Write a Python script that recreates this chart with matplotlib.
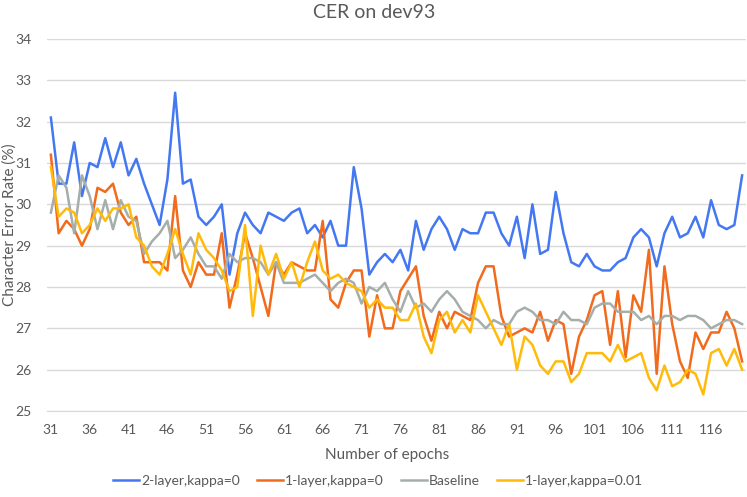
import matplotlib
matplotlib.use("Agg")
import matplotlib.pyplot as plt

plt.rcParams['font.family'] = ['Lato', 'DejaVu Sans']

epochs = list(range(31, 121))

two_layer_k0 = [
    32.1, 30.5, 30.5, 31.5, 30.2, 31.0, 30.9, 31.6, 30.9, 31.5,
    30.7, 31.1, 30.5, 30.0, 29.5, 30.6, 32.7, 30.5, 30.6, 29.7,
    29.5, 29.7, 30.0, 28.3, 29.3, 29.8, 29.5, 29.3, 29.8, 29.7,
    29.6, 29.8, 29.9, 29.3, 29.5, 29.2, 29.6, 29.0, 29.0, 30.9,
    29.9, 28.3, 28.6, 28.8, 28.6, 28.9, 28.4, 29.6, 28.9, 29.4,
    29.7, 29.4, 28.9, 29.4, 29.3, 29.3, 29.8, 29.8, 29.3, 29.0,
    29.7, 28.7, 30.0, 28.8, 28.9, 30.3, 29.3, 28.6, 28.5, 28.8,
    28.5, 28.4, 28.4, 28.6, 28.7, 29.2, 29.4, 29.2, 28.5, 29.3,
    29.7, 29.2, 29.3, 29.7, 29.2, 30.1, 29.5, 29.4, 29.5, 30.7,
]

one_layer_k0 = [
    31.2, 29.3, 29.6, 29.4, 29.0, 29.4, 30.4, 30.3, 30.5, 29.8,
    29.5, 29.7, 28.6, 28.6, 28.6, 28.4, 30.2, 28.4, 28.0, 28.6,
    28.3, 28.3, 29.3, 27.5, 28.3, 29.3, 28.7, 28.0, 27.3, 28.6,
    28.3, 28.6, 28.5, 28.4, 28.4, 29.6, 27.7, 27.5, 28.1, 28.4,
    28.4, 26.8, 27.8, 27.0, 27.0, 27.9, 28.2, 28.5, 27.3, 26.7,
    27.4, 27.0, 27.4, 27.3, 27.2, 28.1, 28.5, 28.5, 27.3, 26.8,
    26.9, 27.0, 26.9, 27.4, 26.7, 27.2, 27.1, 25.9, 26.8, 27.2,
    27.8, 27.9, 26.6, 27.9, 26.3, 27.8, 27.4, 28.9, 25.9, 28.5,
    27.1, 26.2, 25.8, 26.9, 26.5, 26.9, 26.9, 27.4, 27.0, 26.2,
]

baseline = [
    29.8, 30.7, 30.4, 29.3, 30.7, 30.2, 29.4, 30.1, 29.4, 30.1,
    29.7, 29.6, 28.8, 29.1, 29.3, 29.6, 28.7, 28.9, 29.2, 28.8,
    28.5, 28.5, 28.2, 28.8, 28.6, 28.7, 28.7, 28.6, 28.3, 28.6,
    28.1, 28.1, 28.1, 28.2, 28.3, 28.1, 27.9, 28.1, 28.2, 28.1,
    27.6, 28.0, 27.9, 28.1, 27.7, 27.4, 27.9, 27.5, 27.6, 27.4,
    27.7, 27.9, 27.7, 27.4, 27.3, 27.2, 27.0, 27.2, 27.1, 27.1,
    27.4, 27.5, 27.4, 27.2, 27.2, 27.1, 27.4, 27.2, 27.2, 27.1,
    27.5, 27.6, 27.6, 27.4, 27.4, 27.4, 27.2, 27.3, 27.1, 27.3,
    27.3, 27.2, 27.3, 27.3, 27.2, 27.0, 27.1, 27.2, 27.2, 27.1,
]

one_layer_k001 = [
    30.9, 29.7, 29.9, 29.8, 29.3, 29.5, 29.9, 29.6, 29.9, 29.9,
    30.0, 29.2, 29.0, 28.5, 28.3, 28.8, 29.4, 28.8, 28.3, 29.3,
    28.9, 28.7, 28.4, 27.9, 28.0, 29.5, 27.3, 29.0, 28.3, 28.8,
    28.2, 28.6, 28.0, 28.6, 29.1, 28.4, 28.2, 28.3, 28.1, 28.0,
    27.9, 27.5, 27.7, 27.5, 27.5, 27.2, 27.2, 27.6, 26.8, 26.4,
    27.2, 27.4, 26.9, 27.2, 26.9, 27.8, 27.4, 27.0, 26.6, 27.1,
    26.0, 26.8, 26.6, 26.1, 25.9, 26.2, 26.2, 25.7, 25.9, 26.4,
    26.4, 26.4, 26.2, 26.6, 26.2, 26.3, 26.4, 25.8, 25.5, 26.1,
    25.6, 25.7, 26.0, 25.9, 25.4, 26.4, 26.5, 26.1, 26.5, 26.0,
]

series = [
    ('2-layer,kappa=0', two_layer_k0, '#4478F2'),
    ('1-layer,kappa=0', one_layer_k0, '#F26B1D'),
    ('Baseline', baseline, '#A5AEAB'),
    ('1-layer,kappa=0.01', one_layer_k001, '#FFBA0A'),
]

text_col = '#595959'
grid_col = '#D9D9D9'

fig = plt.figure(figsize=(7.47, 4.97), dpi=100)
ax = fig.add_axes([47 / 747, 1 - 411 / 497, 699 / 747, 372 / 497])

x = list(range(len(epochs)))
for name, vals, col in series:
    ax.plot(x, vals, color=col, lw=1.8, label=name, solid_joinstyle='round')

ax.set_xlim(-0.5, len(epochs) - 0.5)
ax.set_ylim(25, 34)
ax.set_yticks(range(25, 35))
ax.set_xticks(x[::5])
ax.set_xticklabels([str(e) for e in epochs[::5]])
ax.tick_params(axis='y', length=0, labelsize=10, colors=text_col, pad=11)
ax.tick_params(axis='x', length=0, labelsize=10, colors=text_col, pad=9)
ax.grid(axis='y', color=grid_col, lw=1)
ax.set_axisbelow(True)
for s in ['top', 'right', 'left']:
    ax.spines[s].set_visible(False)
ax.spines['bottom'].set_color(grid_col)

fig.text(374 / 747, 1 - 12 / 497, 'CER on dev93', fontsize=14, color=text_col,
         ha='center', va='center')
fig.text(387 / 747, 1 - 455 / 497, 'Number of epochs', fontsize=11, color=text_col,
         ha='center', va='center')
fig.text(10 / 747, 1 - 225 / 497, 'Character Error Rate (%)', fontsize=11,
         color=text_col, ha='center', va='center', rotation=90)

fig.legend(*ax.get_legend_handles_labels(), loc='center',
           bbox_to_anchor=(378 / 747, 1 - 481 / 497), ncol=4, frameon=False,
           fontsize=10, labelcolor=text_col, handlelength=1.9, columnspacing=1.2,
           handletextpad=0.15)

fig.savefig('out.png', dpi=100)
